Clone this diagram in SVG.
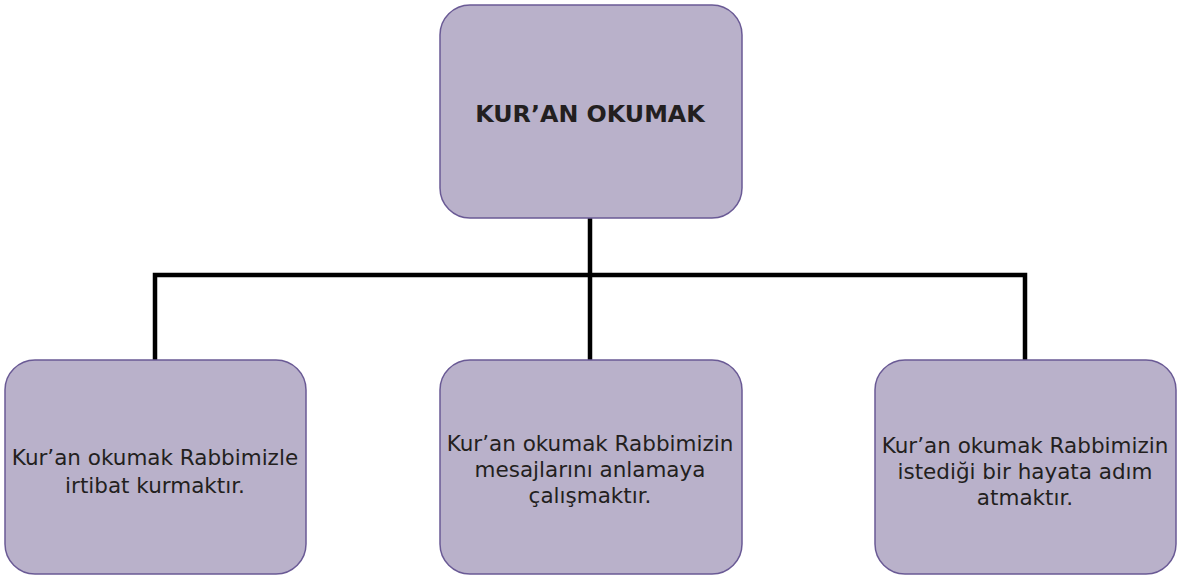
<svg xmlns="http://www.w3.org/2000/svg" width="1180" height="579" viewBox="0 0 1180 579">
<style>
.box{fill:#B9B1CA;stroke:#6A5A95;stroke-width:1.5}
.t{font-family:"DejaVu Sans","Liberation Sans",sans-serif;font-size:21.5px;fill:#231F20;text-anchor:middle}
.title{font-family:"DejaVu Sans","Liberation Sans",sans-serif;font-size:23.8px;font-weight:bold;fill:#231F20;text-anchor:middle}
.c{stroke:#000;stroke-width:4.5;fill:none}
</style>
<rect width="1180" height="579" fill="#fff"/>
<g id="connectors">
<line class="c" x1="590" y1="218" x2="590" y2="360"/>
<polyline class="c" points="155,360 155,275 1025,275 1025,360"/>
</g>
<g id="root">
<rect class="box" x="440" y="5" width="302" height="213" rx="30"/>
<text class="title" x="590" y="122">KUR’AN OKUMAK</text>
</g>
<g id="n1">
<rect class="box" x="5" y="360" width="301" height="214" rx="30"/>
<text class="t" x="155" y="464.5">Kur’an okumak Rabbimizle</text>
<text class="t" x="155" y="492.5">irtibat kurmaktır.</text>
</g>
<g id="n2">
<rect class="box" x="440" y="360" width="302" height="214" rx="30"/>
<text class="t" x="590" y="451">Kur’an okumak Rabbimizin</text>
<text class="t" x="590" y="477">mesajlarını anlamaya</text>
<text class="t" x="590" y="503">çalışmaktır.</text>
</g>
<g id="n3">
<rect class="box" x="875" y="360" width="301" height="214" rx="30"/>
<text class="t" x="1025" y="453">Kur’an okumak Rabbimizin</text>
<text class="t" x="1025" y="479">istediği bir hayata adım</text>
<text class="t" x="1025" y="505">atmaktır.</text>
</g>
</svg>
